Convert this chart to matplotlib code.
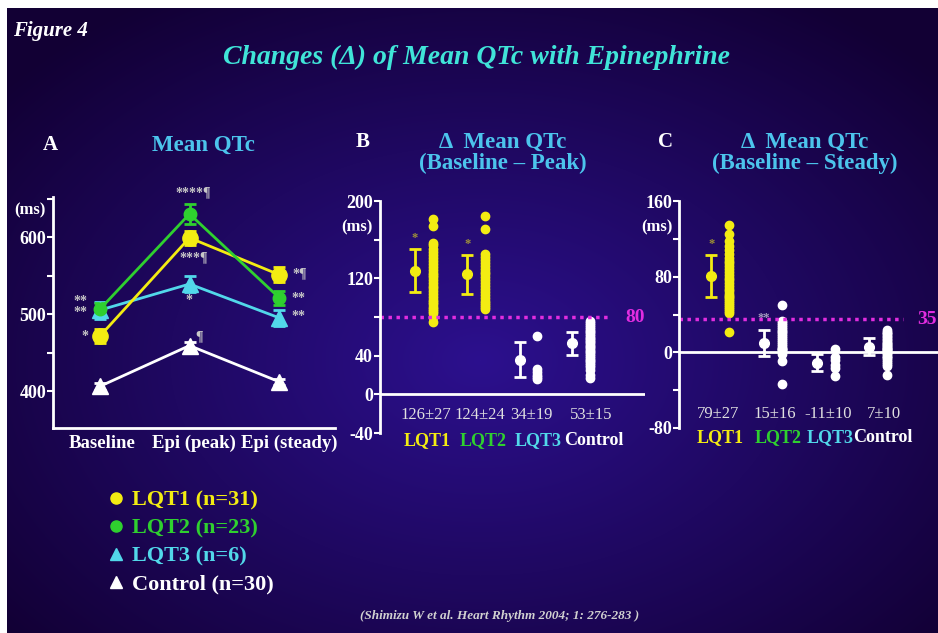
import numpy as np
import matplotlib.pyplot as plt
import matplotlib.transforms as mtrans
from matplotlib.lines import Line2D

W, H = 938, 633

# ---- panel A: mean QTc (ms) per phase ----
phases = ['Baseline', 'Epi (peak)', 'Epi (steady)']
lqt1_qtc = [471, 599, 551]
lqt1_err = [9, 9, 10]
lqt2_qtc = [506, 630, 521]
lqt2_err = [8, 13, 9]
lqt3_qtc = [505, 539, 495]
lqt3_err = [11, 11, 10]
ctrl_qtc = [406, 459, 412]
ctrl_err = [4, 5, 4]

groups = ['LQT1', 'LQT2', 'LQT3', 'Control']
group_n = [31, 23, 6, 30]

# ---- panel B: delta QTc baseline -> peak ----
b_mean = [128, 124, 36, 53]
b_err = [22, 20, 18, 12]
b_text = ['126\u00b127', '124\u00b124', '34\u00b119', '53\u00b115']
b_lqt1 = [181, 174, 157, 154, 150, 147, 144, 141, 138, 135, 132, 129, 126, 123, 121,
          118, 115, 112, 110, 107, 104, 101, 98, 96, 93, 90, 88, 86, 84, 80, 75]
b_lqt2 = [184, 171, 145, 142, 139, 136, 133, 130, 127, 124, 121, 118, 115, 112, 109,
          106, 103, 100, 97, 94, 92, 90, 88]
b_lqt3 = [60, 26, 23, 20, 18, 16]
b_ctrl = [76, 74, 72, 70, 68, 66, 64, 62, 60, 58, 57, 55, 54, 52, 50, 49, 47, 45, 44,
          42, 40, 38, 36, 34, 32, 30, 28, 25, 20, 17]
b_cut = 80

# ---- panel C: delta QTc baseline -> steady ----
c_mean = [81, 10, -11, 6]
c_err = [22, 14, 9, 9]
c_text = ['79\u00b127', '15\u00b116', '-11\u00b110', '7\u00b110']
c_lqt1 = [135, 125, 118, 112, 108, 104, 100, 97, 94, 91, 88, 85, 82, 79, 76, 73, 70,
          67, 65, 62, 60, 58, 56, 54, 52, 50, 48, 46, 44, 42, 21]
c_lqt2 = [50, 33, 31, 29, 27, 25, 23, 21, 19, 17, 15, 13, 11, 9, 7, 5, 4, 3, 2, 0, -2,
          -9, -34]
c_lqt3 = [4, -5, -8, -13, -17, -25]
c_ctrl = [24, 22, 20, 19, 17, 16, 14, 13, 11, 10, 9, 8, 7, 6, 5, 4, 3, 2, 1, 0, -1, -2,
          -4, -5, -6, -8, -10, -12, -14, -24]
c_cut = 35

YEL = '#f3ec12'
GRN = '#2fd02f'
CYN = '#52d8ea'
WHT = '#ffffff'
HEAD = '#4cc4ec'
TCYAN = '#40e4d8'
MAG = '#e22de0'
STAR = '#c8c8c8'
DARK = '#120034'

SERIF = ['Liberation Serif', 'DejaVu Serif']
plt.rcParams['font.family'] = SERIF
plt.rcParams['font.weight'] = 'bold'

fig = plt.figure(figsize=(W / 100, H / 100), dpi=100, facecolor=DARK)


def px_axes(x0, y0, x1, y1):
    return fig.add_axes([x0 / W, 1 - y1 / H, (x1 - x0) / W, (y1 - y0) / H])


def ftext(x, y, s, **kw):
    fig.text(x / W, 1 - y / H, s, **kw)


# background: dark navy with a lighter blue glow in the middle
bg = fig.add_axes([0, 0, 1, 1])
yy, xx = np.mgrid[0:H, 0:W]
d = np.sqrt(((xx - 480) / 620.0) ** 2 + ((yy - 360) / 430.0) ** 2)
d = np.clip(d, 0, 1)[..., None]
inner = np.array([44, 16, 142]) / 255.0
outer = np.array([18, 0, 52]) / 255.0
img = inner * (1 - d) + outer * d
img[:, :7] = 1.0
img[:8, :] = 1.0
bg.imshow(img, extent=[0, W, H, 0], aspect='auto', interpolation='nearest')
bg.set_xlim(0, W)
bg.set_ylim(H, 0)
bg.set_axis_off()

# titles
ftext(13, 31, 'Figure 4', color='white', fontsize=15, style='italic',
      weight='bold', va='center')
ftext(476, 57, 'Changes (\u0394) of Mean QTc with Epinephrine', color=TCYAN,
      fontsize=20, style='italic', weight='bold', ha='center', va='center')
ftext(500, 616, '(Shimizu W et al. Heart Rhythm 2004; 1: 276-283 )', color='#d0d0d0',
      fontsize=9.5, style='italic', ha='center', va='center')


def style_axis(ax):
    ax.set_facecolor('none')
    for s in ['top', 'right', 'bottom']:
        ax.spines[s].set_visible(False)
    ax.spines['left'].set_color('white')
    ax.spines['left'].set_linewidth(2)
    ax.tick_params(axis='y', colors='white', width=1.5, length=4, labelsize=13, pad=1)
    for t in ax.get_yticklabels():
        t.set_fontweight('bold')


# ---------------- panel A ----------------
axA = px_axes(53, 197, 335, 428)
style_axis(axA)
axA.spines['bottom'].set_visible(True)
axA.spines['bottom'].set_color('white')
axA.spines['bottom'].set_linewidth(2)
xA = np.arange(len(phases))
axA.set_xlim(-0.52, 2.62)
axA.set_ylim(352, 652)
axA.set_yticks([400, 450, 500, 550, 600, 650])
axA.set_yticklabels(['400', '', '500', '', '600', ''])
axA.set_xticks(xA)
axA.set_xticklabels(phases, color='white', fontsize=13.5, fontweight='bold')
axA.tick_params(axis='x', length=0, pad=5)
for lab, dx in zip(axA.get_xticklabels(), [2, 4, 10]):
    lab.set_transform(lab.get_transform() +
                      mtrans.ScaledTranslation(dx / 100, 0, fig.dpi_scale_trans))

ekw = dict(lw=2, elinewidth=2, capsize=4, capthick=2)
axA.errorbar(xA, ctrl_qtc, yerr=ctrl_err, color=WHT, marker='^', ms=11, **ekw)
axA.errorbar(xA, lqt3_qtc, yerr=lqt3_err, color=CYN, marker='^', ms=11, **ekw)
axA.errorbar(xA, lqt1_qtc, yerr=lqt1_err, color=YEL, marker='o', ms=11, **ekw)
axA.errorbar(xA, lqt2_qtc, yerr=lqt2_err, color=GRN, marker='o', ms=9, **ekw)

skw = dict(color=STAR, fontsize=10, ha='center', va='center')
ftext(80, 307, '**\n**', linespacing=0.8, **skw)
ftext(85, 336, '*', **skw)
ftext(193, 193, '****\u00b6', **skw)
ftext(194, 258, '***\u00b6', **skw)
ftext(189, 300, '*', **skw)
ftext(199, 337, '\u00b6', **skw)
ftext(300, 274, '*\u00b6', **skw)
ftext(298, 298, '**', **skw)
ftext(298, 317, '**', **skw)

ftext(50, 145, 'A', color='white', fontsize=15, ha='center', va='center')
ftext(203, 145, 'Mean QTc', color=HEAD, fontsize=16.5, ha='center', va='center')
ftext(30, 210, '(ms)', color='white', fontsize=12, ha='center', va='center')

# legend
handles = [Line2D([], [], ls='none', marker='o', color=YEL, ms=8),
           Line2D([], [], ls='none', marker='o', color=GRN, ms=8),
           Line2D([], [], ls='none', marker='^', color=CYN, ms=8),
           Line2D([], [], ls='none', marker='^', color=WHT, ms=8)]
labels = ['%s (n=%d)' % (g, n) for g, n in zip(groups, group_n)]
fig.legend(handles, labels, loc='upper left', bbox_to_anchor=(94 / W, 1 - 479 / H),
           frameon=False, labelcolor=[YEL, GRN, CYN, WHT],
           prop=dict(family=SERIF, weight='bold', size=16),
           handletextpad=0.2, labelspacing=0.33, handlelength=1.0, borderpad=0)


# ---------------- panels B and C ----------------
def delta_panel(ax, means, errs, cols, colors, cut, cut_end, cut_lbl_x, cut_ha,
                texts, text_dx, name_dx, stars, text_y, name_y):
    style_axis(ax)
    ax.axhline(0, color='white', lw=2)
    ax.set_xticks([])
    idx = np.arange(1, len(groups) + 1)
    for i in range(len(groups)):
        ax.errorbar(idx[i] - 0.17, means[i], yerr=errs[i], color=colors[i], marker='o',
                    ms=7, elinewidth=2, capsize=4, capthick=2, ls='none')
        ax.plot(np.full(len(cols[i]), idx[i] + 0.17), cols[i], 'o', ms=6,
                color=colors[i], ls='none')
        if stars[i]:
            ax.text(idx[i] - 0.17, means[i] + errs[i] + 12, stars[i], color=colors[i],
                    alpha=0.6, fontsize=9, ha='center', va='center')
    x0 = ax.get_xlim()[0]
    ax.plot([x0, cut_end], [cut, cut], color=MAG, lw=2.5, ls=(0, (1, 1.3)))
    ax.text(cut_lbl_x, cut, str(cut), color=MAG, fontsize=14, ha=cut_ha, va='center',
            clip_on=False)
    name_cols = [YEL, GRN, CYN, WHT]
    trans = ax.get_xaxis_transform()
    for i in range(len(groups)):
        ax.text(idx[i] + text_dx[i], text_y, texts[i], transform=trans, color='#e0e0e0',
                fontsize=12, fontweight='normal', ha='center', va='center')
        ax.text(idx[i] + name_dx[i], name_y, groups[i], transform=trans,
                color=name_cols[i], fontsize=13, ha='center', va='center')


axB = px_axes(380, 201, 645, 433)
axB.set_xlim(0.16, 5.23)
axB.set_ylim(-40, 200)
axB.set_yticks([-40, 0, 40, 80, 120, 160, 200])
axB.set_yticklabels(['-40', '0', '40', '', '120', '', '200'])
delta_panel(axB, b_mean, b_err, [b_lqt1, b_lqt2, b_lqt3, b_ctrl],
            [YEL, YEL, WHT, WHT], b_cut, 4.56, 5.05, 'center', b_text,
            [0.04, 0.07, 0.06, 0.21], [0.06, 0.13, 0.18, 0.25], ['*', '*', '', ''],
            0.078, -0.034)

axC = px_axes(679, 201, 938, 428)
axC.set_xlim(0.22, 5.13)
axC.set_ylim(-80, 160)
axC.set_yticks([-80, -40, 0, 40, 80, 120, 160])
axC.set_yticklabels(['-80', '', '0', '', '80', '', '160'])
delta_panel(axC, c_mean, c_err, [c_lqt1, c_lqt2, c_lqt3, c_ctrl],
            [YEL, WHT, WHT, WHT], c_cut, 4.47, 5.11, 'right', c_text,
            [-0.03, 0.04, 0.04, 0.1], [0.0, 0.1, 0.08, 0.09], ['*', '**', '', ''],
            0.062, -0.044)

for ax in (axB, axC):
    for t in ax.get_yticklabels():
        t.set_fontweight('bold')

ftext(363, 142, 'B', color='white', fontsize=15, ha='center', va='center')
ftext(503, 142, '\u0394  Mean QTc', color=HEAD, fontsize=16.5, ha='center', va='center')
ftext(503, 163, '(Baseline \u2013 Peak)', color=HEAD, fontsize=16.5, ha='center', va='center')
ftext(357, 227, '(ms)', color='white', fontsize=12, ha='center', va='center')

ftext(665, 142, 'C', color='white', fontsize=15, ha='center', va='center')
ftext(805, 142, '\u0394  Mean QTc', color=HEAD, fontsize=16.5, ha='center', va='center')
ftext(805, 163, '(Baseline \u2013 Steady)', color=HEAD, fontsize=16.5, ha='center', va='center')
ftext(657, 227, '(ms)', color='white', fontsize=12, ha='center', va='center')

fig.savefig('out.png', dpi=100, facecolor=DARK)
